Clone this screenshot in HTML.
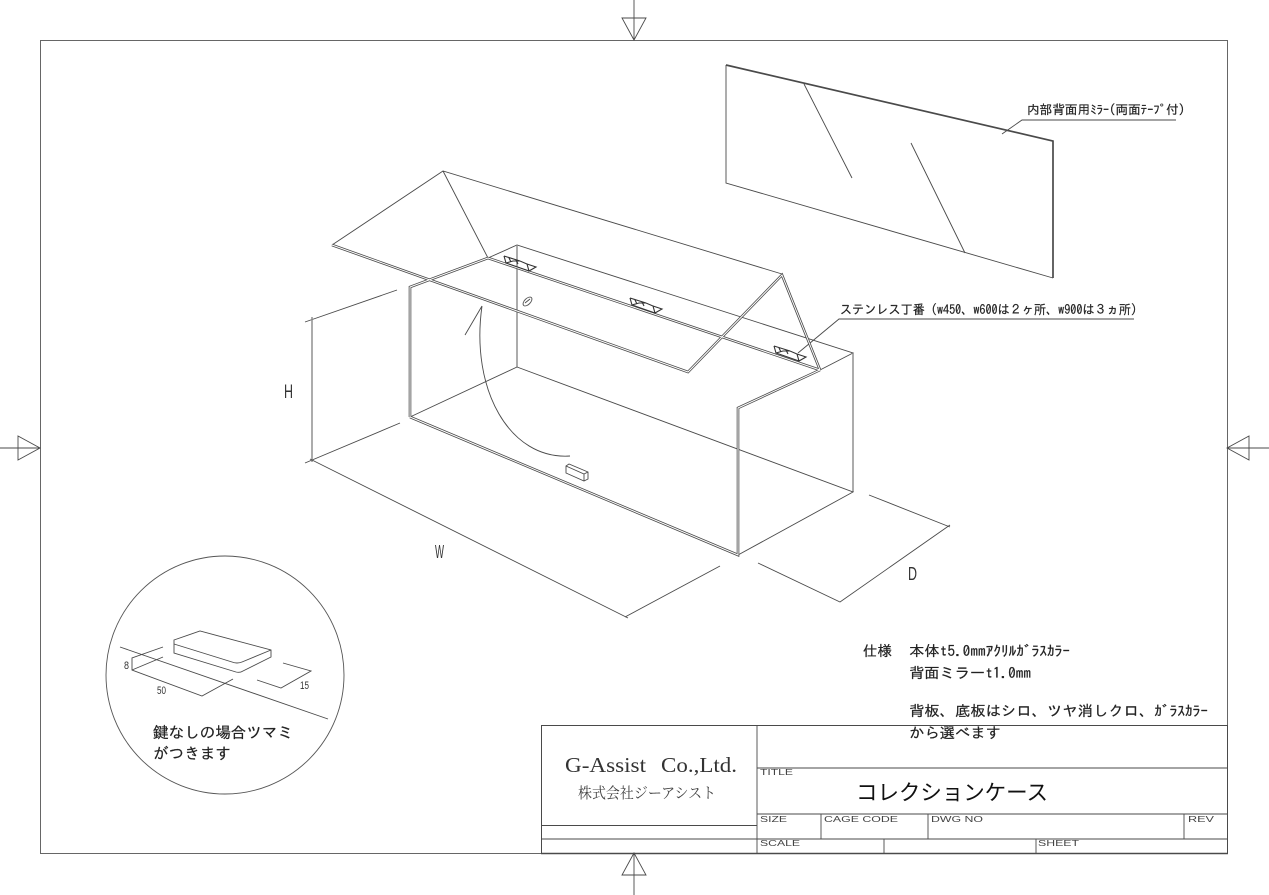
<!DOCTYPE html>
<html lang="ja">
<head>
<meta charset="utf-8">
<title>コレクションケース</title>
<style>
html,body{margin:0;padding:0;background:#fff;}
svg{display:block;}
.l{fill:none;stroke:#4a4a4a;stroke-width:.9;}
.g{fill:none;stroke:#888;stroke-width:1.4;}
.da{fill:none;stroke:#4a4a4a;stroke-width:2.6;}
.db{fill:none;stroke:#fff;stroke-width:1;}
.hv{fill:none;stroke:#4a4a4a;stroke-width:1.7;}
.hg{fill:none;stroke:#333;stroke-width:1.1;}
text{font-family:"IPAGothic","Noto Sans CJK JP",sans-serif;fill:#222;}
.w{stroke:#222;stroke-width:.2;}
.lat{font-family:"Liberation Sans",sans-serif;fill:#444;font-size:8px;}
.ser{font-family:"Liberation Serif",serif;fill:#333;}
.dim{font-family:"Liberation Sans",sans-serif;fill:#333;}
</style>
</head>
<body>
<svg width="1269" height="895" viewBox="0 0 1269 895" xmlns="http://www.w3.org/2000/svg">
<rect width="1269" height="895" fill="#fff"/>

<!-- frame -->
<rect x="40.5" y="40.5" width="1187" height="813" fill="none" stroke="#666" stroke-width="1"/>

<!-- centre marks -->
<path class="l" d="M634 0V40M622 18H646L634 40Z"/>
<path class="l" d="M634 853V895M622 875H646L634 853Z"/>
<path class="l" d="M0 448H40M18 436V460L40 448Z"/>
<path class="l" d="M1227 448H1269M1249 436V460L1227 448Z"/>

<!-- mirror -->
<path class="l" d="M726 65V183L1053 278"/>
<path class="hv" d="M726 65L1053 141V278"/>
<path class="l" d="M804 84L852 178M911 143L965 253"/>
<path class="l" d="M1002 134L1022 120H1176"/>
<text class="w" x="1027" y="114" font-size="12.500" textLength="158" lengthAdjust="spacingAndGlyphs">内部背面用ﾐﾗｰ(両面ﾃｰﾌﾟ付)</text>

<!-- hinge leader -->
<path class="l" d="M798 353L839 319H1134"/>
<text class="w" x="840" y="314" font-size="13" textLength="303" lengthAdjust="spacingAndGlyphs">ステンレス丁番（w450、w600は２ヶ所、w900は３ヵ所）</text>

<!-- box single lines -->
<path class="l" d="M488 258L517 245L853 353L820 370"/>
<path class="g" d="M517 245V367M853 353V492"/>
<path class="l" d="M517 367L853 492L738 555M410 417L517 367"/>

<!-- lid single lines -->
<path class="l" d="M332 245L443 171L782 274M443 171L488 258"/>

<!-- double lines -->
<path class="da" d="M410 417V287L488 258M410 417L738 555V408L820 370M488 258L820 370M332 245L688 372L782 275L820 370"/>
<path class="db" d="M410 417V287L488 258M410 417L738 555V408L820 370M488 258L820 370M332 245L688 372L782 275L820 370"/>

<!-- hinges -->
<path class="hg" d="M504 256L506 263L513 261L520 261L527 264L529 271L536 267L527 264M504 256L520 261M506 263L529 271M509 258L511 262M516 260L518 264"/>
<path class="hg" d="M630 298L632 305L639 303L646 303L653 306L655 313L662 309L653 306M630 298L646 303M632 305L655 313M635 300L637 304M642 302L644 306"/>
<path class="hg" d="M774 346L776 353L783 351L790 351L797 354L799 361L806 357L797 354M774 346L790 351M776 353L799 361M779 348L781 352M786 350L788 354"/>

<!-- keyhole -->
<ellipse cx="527.500" cy="301.500" rx="5.500" ry="3" transform="rotate(-45 527.500 301.500)" fill="none" stroke="#555" stroke-width=".9"/>
<path class="l" d="M525 303L530 299"/>

<!-- arrow -->
<path class="l" d="M482 306C470 390 510 460 570 456M482 306L465 335"/>

<!-- knob -->
<path class="l" d="M566 466L569 464L588 472V479L584 481L566 473ZM566 466L584 474L588 472M584 474V481"/>

<!-- dimension lines -->
<path class="l" d="M305 322L397 290M305 463L400 423"/>
<path class="g" d="M312 317V462"/>
<path class="l" d="M310 459L628 618M625 617L720 566"/>
<path class="l" d="M758 563L840 602L950 525M869 495L950 527"/>
<text class="dim" x="284" y="398" font-size="19" textLength="9" lengthAdjust="spacingAndGlyphs">H</text>
<text class="dim" x="435" y="558" font-size="18" textLength="9" lengthAdjust="spacingAndGlyphs">W</text>
<text class="dim" x="908" y="580" font-size="18" textLength="9" lengthAdjust="spacingAndGlyphs">D</text>

<!-- detail circle -->
<circle cx="225" cy="675" r="119" fill="none" stroke="#555" stroke-width=".9"/>
<path class="l" d="M120 647L328 719"/>
<path class="l" d="M174 640L200 631L271 650V657L243 671Q240 673 236 672L174 653ZM174 644L232 662Q237 664 242 662L271 650"/>
<path class="l" d="M163 647L132 658V670L202 696L233 679M163 657L132 670"/>
<path class="l" d="M257 680L281 688L311 671L283 663"/>
<text class="dim" x="124" y="669" font-size="11" textLength="5" lengthAdjust="spacingAndGlyphs">8</text>
<text class="dim" x="157" y="694" font-size="11" textLength="9" lengthAdjust="spacingAndGlyphs">50</text>
<text class="dim" x="300" y="689" font-size="11" textLength="9" lengthAdjust="spacingAndGlyphs">15</text>
<text class="w" x="153" y="738" font-size="15.500" textLength="140" lengthAdjust="spacingAndGlyphs">鍵なしの場合ツマミ</text>
<text class="w" x="153" y="759" font-size="15.500" textLength="78" lengthAdjust="spacingAndGlyphs">がつきます</text>

<!-- spec -->
<text class="w" x="863" y="656" font-size="14.500" textLength="29" lengthAdjust="spacingAndGlyphs">仕様</text>
<text class="w" x="909" y="656" font-size="14.500" textLength="161" lengthAdjust="spacingAndGlyphs">本体t5.0mmｱｸﾘﾙｶﾞﾗｽｶﾗｰ</text>
<text class="w" x="909" y="678" font-size="14.500" textLength="122" lengthAdjust="spacingAndGlyphs">背面ミラーt1.0mm</text>
<text class="w" x="909" y="716" font-size="14.500" textLength="299" lengthAdjust="spacingAndGlyphs">背板、底板はシロ、ツヤ消しクロ、ｶﾞﾗｽｶﾗｰ</text>
<text class="w" x="909" y="738" font-size="14.500" textLength="92" lengthAdjust="spacingAndGlyphs">から選べます</text>

<!-- title block -->
<path d="M541.500 725.500H1227.500V853.500H541.500Z" fill="none" stroke="#4a4a4a" stroke-width="1"/>
<path d="M541 853.500H1228" fill="none" stroke="#4a4a4a" stroke-width="1.600"/>
<path class="l" d="M757 725V853M757 768H1227M757 814H1227M541 825.500H757M541 839H1227M821 814V839M928 814V839M1184 814V839M884 839V853M1036 839V853"/>
<text class="ser" x="565" y="772" font-size="21" textLength="81" lengthAdjust="spacingAndGlyphs">G-Assist</text>
<text class="ser" x="661" y="772" font-size="21" textLength="76" lengthAdjust="spacingAndGlyphs">Co.,Ltd.</text>
<text x="578" y="798" font-size="15" textLength="138" lengthAdjust="spacingAndGlyphs" style="font-family:'Noto Serif CJK SC','IPAGothic',serif;fill:#444;">株式会社ジーアシスト</text>
<text x="856" y="800" font-size="21.500" textLength="192" lengthAdjust="spacing" style="font-family:'Noto Sans CJK JP','IPAGothic',sans-serif;fill:#111;">コレクションケース</text>
<text class="lat" x="760" y="775" textLength="33" lengthAdjust="spacingAndGlyphs">TITLE</text>
<text class="lat" x="760" y="822" textLength="27" lengthAdjust="spacingAndGlyphs">SIZE</text>
<text class="lat" x="824" y="822" textLength="74" lengthAdjust="spacingAndGlyphs">CAGE CODE</text>
<text class="lat" x="931" y="822" textLength="52" lengthAdjust="spacingAndGlyphs">DWG NO</text>
<text class="lat" x="1188" y="822" textLength="26" lengthAdjust="spacingAndGlyphs">REV</text>
<text class="lat" x="760" y="846" textLength="40" lengthAdjust="spacingAndGlyphs">SCALE</text>
<text class="lat" x="1038" y="846" textLength="41" lengthAdjust="spacingAndGlyphs">SHEET</text>
</svg>
</body>
</html>
